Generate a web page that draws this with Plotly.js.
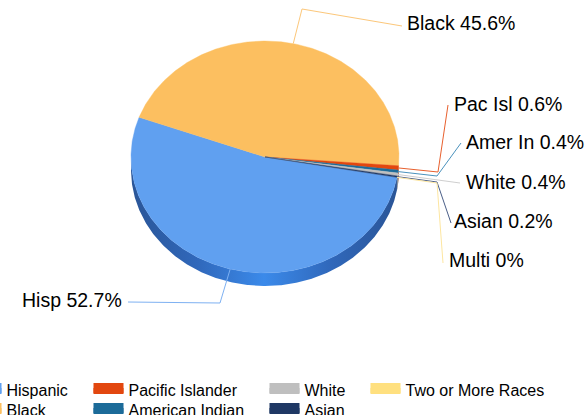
<!DOCTYPE html>
<html>
<head>
<meta charset="utf-8">
<script src="https://cdn.plot.ly/plotly-3.0.1.min.js"></script>
<style>
html,body{margin:0;padding:0;background:#ffffff;}
#chart{width:586px;height:415px;}
</style>
</head>
<body>
<div id="chart"></div>
<script>
// ---------------- DATA ----------------
const categories = ['Hispanic', 'Black', 'Pacific Islander', 'American Indian', 'White', 'Asian', 'Two or More Races'];
const shortLabels = ['Hisp', 'Black', 'Pac Isl', 'Amer In', 'White', 'Asian', 'Multi'];
const shares = [52.7, 45.6, 0.6, 0.4, 0.4, 0.2, 0];

// ---------------- STYLE / LAYOUT ----------------
const topColors  = ['#60a0f0', '#fcbf60', '#e2470f', '#1c6b99', '#bfbfbf', '#1f3864', '#ffe07f'];
const sideColors = ['#3270c6', '#c8913a', '#a8330a', '#134d70', '#8f8f8f', '#142646', '#c9ae5c'];
const lineColors = ['#7eb1f2', '#fcc77a', '#e8602e', '#4a92bd', '#cfcfcf', '#4b5f88', '#fde6a0'];

const W = 586, H = 415;
const CX = 265, CY = 157, RX = 134, RY = 116, DEPTH = 13;   // pie placement in pixels
const ROTATION = -10.1;                                    // start angle (deg), slices go clockwise

// leader elbows / ends and label anchors (pixels)
const leaderPts = [
  [[220, 303], [128, 302]],
  [[302, 9], [402, 26]],
  [[438, 172], [448, 105]],
  [[437, 176], [461, 143]],
  [[460, 183]],
  [[437, 182], [451, 223]],
  [[437, 183], [443, 263]]
];
const labelPos = [
  [124, 300, 'right'],
  [405, 23, 'left'],
  [452, 103.5, 'left'],
  [464, 141.7, 'left'],
  [464, 181.7, 'left'],
  [452, 220.5, 'left'],
  [447, 260, 'left']
];
// legend entry placement (px): item origin x, item centre y
const legendX = [-33.5, -33.5, 88.5, 88.5, 264.5, 264.5, 365.5];
const legendY = [390, 410, 390, 410, 390, 410, 390];
const LEGEND_FS = 16;

const px2x = p => (p - CX) / RX;
const py2y = p => (CY - p) / RY;
const dz = DEPTH / RY;
const rad = d => d * Math.PI / 180;

const total = shares.reduce((a, b) => a + b, 0);
const traces = [];
const sliceAngles = [];
let cum = 0;
shares.forEach((v, i) => {
  const a0 = ROTATION - cum / total * 360;
  cum += v;
  const a1 = ROTATION - cum / total * 360;
  sliceAngles.push([a0, a1]);
});

// side (rim) of the front half
shares.forEach((v, i) => {
  const [a0, a1] = sliceAngles[i];
  if (a0 === a1) return;
  const n = Math.max(2, Math.ceil((a0 - a1) / 0.5));
  let runs = [], cur = [];
  for (let k = 0; k <= n; k++) {
    const t = a0 - (a0 - a1) * k / n;
    if (Math.sin(rad(t)) <= 1e-9) cur.push(t);
    else if (cur.length) { runs.push(cur); cur = []; }
  }
  if (cur.length) runs.push(cur);
  runs.forEach(run => {
    if (run.length < 2) return;
    const xs = [], ys = [];
    run.forEach(t => { xs.push(Math.cos(rad(t))); ys.push(Math.sin(rad(t))); });
    run.slice().reverse().forEach(t => { xs.push(Math.cos(rad(t))); ys.push(Math.sin(rad(t)) - dz); });
    const tr = {
      type: 'scatter', x: xs, y: ys, mode: 'lines', fill: 'toself',
      fillcolor: sideColors[i], line: {width: 0, color: sideColors[i]},
      showlegend: false, hoverinfo: 'skip'
    };
    if (i === 0) {
      tr.fillgradient = {type: 'horizontal', colorscale: [
        [0, '#2a5597'], [0.25, '#3068bb'], [0.5, '#3b8aea'], [0.75, '#3068bb'], [1, '#2a5597']]};
    }
    traces.push(tr);
  });
});

// top faces
shares.forEach((v, i) => {
  const [a0, a1] = sliceAngles[i];
  if (a0 === a1) return;
  const n = Math.max(2, Math.ceil((a0 - a1) / 0.5));
  const xs = [0], ys = [0];
  for (let k = 0; k <= n; k++) {
    const t = a0 - (a0 - a1) * k / n;
    xs.push(Math.cos(rad(t))); ys.push(Math.sin(rad(t)));
  }
  xs.push(0); ys.push(0);
  traces.push({
    type: 'scatter', x: xs, y: ys, mode: 'lines', fill: 'toself',
    fillcolor: topColors[i], line: {width: 0.4, color: topColors[i]},
    name: categories[i], showlegend: false,
    hovertemplate: categories[i] + ': ' + v + '%<extra></extra>'
  });
});

// leader lines + labels
const annotations = [];
shares.forEach((v, i) => {
  const [a0, a1] = sliceAngles[i];
  const tm = rad((a0 + a1) / 2);
  const xs = [Math.cos(tm)], ys = [Math.sin(tm)];
  leaderPts[i].forEach(p => { xs.push(px2x(p[0])); ys.push(py2y(p[1])); });
  traces.push({
    type: 'scatter', x: xs, y: ys, mode: 'lines',
    line: {width: 1, color: lineColors[i]}, showlegend: false, hoverinfo: 'skip'
  });
  const lp = labelPos[i];
  annotations.push({
    xref: 'paper', yref: 'paper', x: lp[0] / W, y: 1 - lp[1] / H,
    xanchor: lp[2], yanchor: 'middle', showarrow: false,
    text: shortLabels[i] + ' ' + v + '%',
    font: {family: 'Liberation Sans, Arial, sans-serif', size: 19.5, color: '#000000'}
  });
});

// legend entries (one small legend per entry so the columns match)
const legendIds = categories.map((c, i) => i === 0 ? 'legend' : 'legend' + (i + 1));
categories.forEach((c, i) => {
  traces.push({
    type: 'scatter', x: [null], y: [null], mode: 'lines', fill: 'toself',
    fillcolor: topColors[i], line: {width: 10, color: topColors[i]},
    name: c, legend: legendIds[i], hoverinfo: 'skip'
  });
});

const layout = {
  width: W, height: H,
  margin: {l: 0, r: 0, t: 0, b: 0, pad: 0, autoexpand: false},
  paper_bgcolor: '#ffffff', plot_bgcolor: '#ffffff',
  showlegend: true,
  xaxis: {range: [px2x(0), px2x(W)], visible: false, fixedrange: true},
  yaxis: {range: [py2y(H), py2y(0)], visible: false, fixedrange: true},
  annotations: annotations
};
const itemH = LEGEND_FS * 1.3 + 3;
legendIds.forEach((id, i) => {
  const top = legendY[i] - itemH / 2 - 5;
  layout[id] = {
    orientation: 'v', xanchor: 'left', yanchor: 'top',
    x: legendX[i] / W, y: 1 - top / H,
    bgcolor: 'rgba(0,0,0,0)', borderwidth: 0, tracegroupgap: 0,
    font: {family: 'Liberation Sans, Arial, sans-serif', size: LEGEND_FS, color: '#000000'}
  };
});

Plotly.newPlot('chart', traces, layout, {displayModeBar: false, staticPlot: true});
</script>
</body>
</html>
